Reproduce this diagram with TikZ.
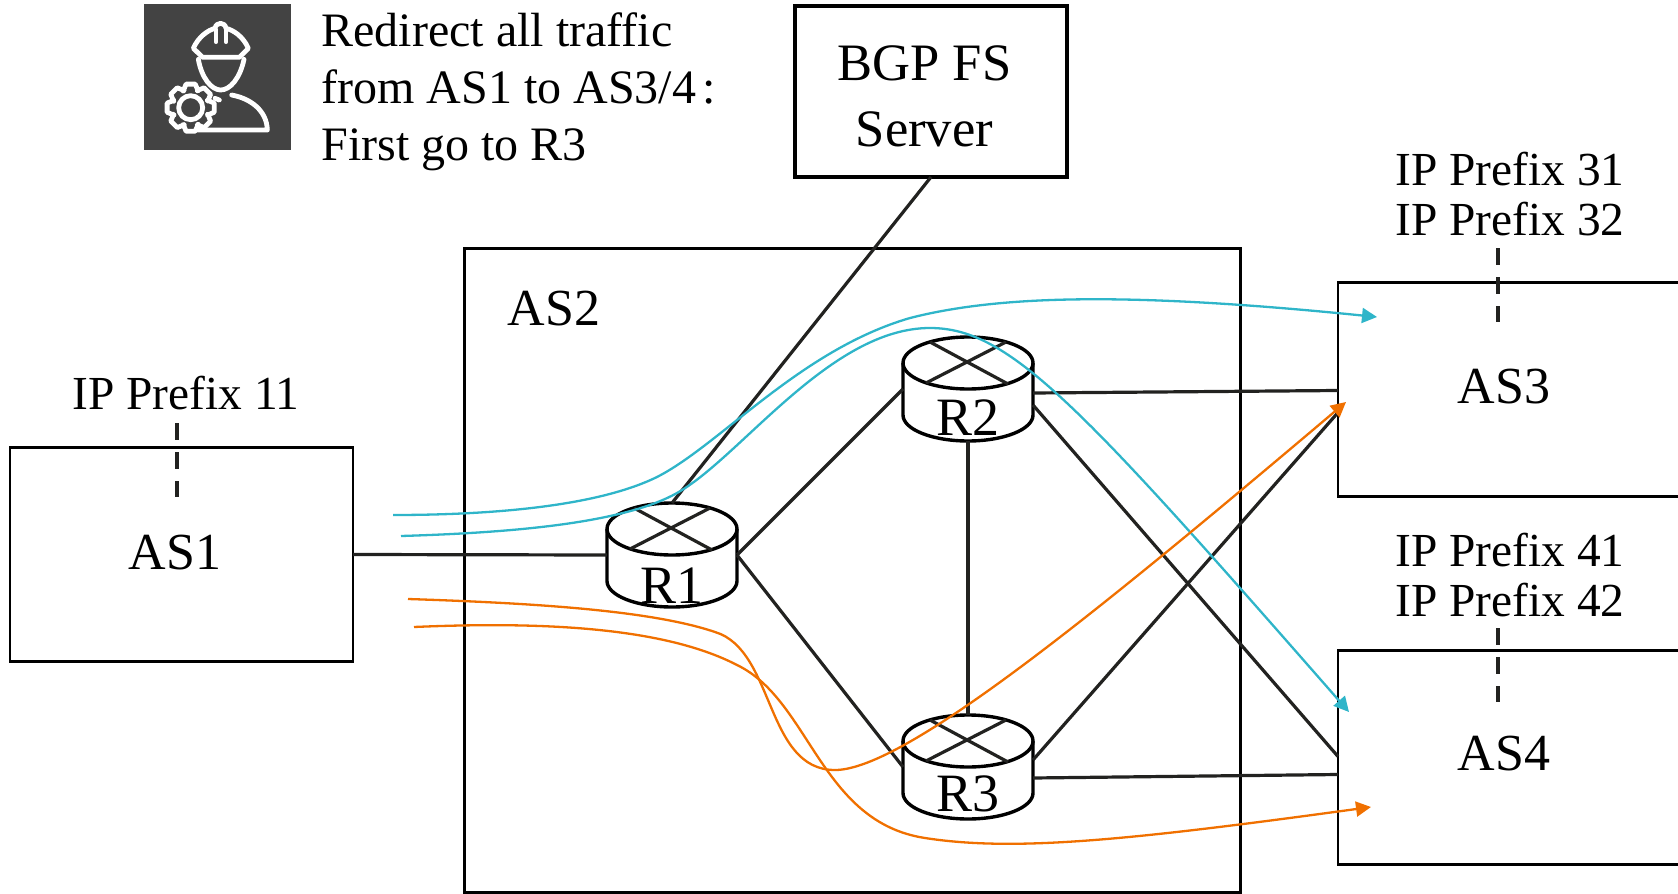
\documentclass[tikz,border=0pt]{standalone}
\usepackage{fontspec}
\setmainfont{Liberation Serif}
\usetikzlibrary{arrows.meta}
\definecolor{flowcyan}{HTML}{2FB5C9}
\definecolor{floworange}{HTML}{F07000}
\definecolor{linkgray}{HTML}{222220}
\definecolor{icongray}{HTML}{434343}
\begin{document}
\begin{tikzpicture}[x=0.5pt, y=-0.5pt,
    % Styles
    asbox/.style={draw=black, line width=1.1pt, inner sep=0pt, outer sep=0pt, minimum width=171.5pt, minimum height=107pt},
    server/.style={draw=black, line width=1.6pt, inner sep=0pt, outer sep=0pt, minimum width=136pt, minimum height=85.5pt},
    router/.style={inner sep=0pt, outer sep=0pt, minimum width=65pt, minimum height=52pt},
    routerline/.style={draw=black, line width=1.7pt},
    crossline/.style={draw=linkgray, line width=1.6pt},
    aslabel/.style={font=\fontsize{26}{30}\selectfont},
    routerlabel/.style={font=\fontsize{27}{30}\selectfont},
    prefixlabel/.style={align=left, inner sep=0pt, font=\fontsize{23.7}{25}\selectfont},
    link/.style={draw=linkgray, line width=1.6pt},
    prefix-line/.style={draw=linkgray, line width=1.7pt, dash pattern=on 8.5pt off 6pt},
    cyan-arrow/.style={-{Triangle[length=7.5pt,width=7.5pt]}, draw=flowcyan, line width=1.15pt},
    orange-arrow/.style={-{Triangle[length=7.5pt,width=7.5pt]}, draw=floworange, line width=1.15pt},
    iconline/.style={draw=white, line width=2.4pt, line join=round, line cap=round},
]
\useasboundingbox (0,0) rectangle (1678,894);
\clip (0,0) rectangle (1678,894);

% Operator icon
\node[fill=icongray, inner sep=0pt, minimum width=73.5pt, minimum height=73pt] (icon) at (217.5,77) {};
\begin{scope}[shift={(130,0)}, x=0.1667pt, y=-0.1667pt]
    \draw[iconline] (190,145) .. controls (205,110) and (235,90) .. (255,85) .. controls (258,65) and (285,65) .. (288,85) .. controls (310,90) and (340,110) .. (355,145) -- (328,172) -- (218,172) -- cycle;
    \draw[iconline] (258,90) -- (258,125);
    \draw[iconline] (288,90) -- (288,125);
    \draw[iconline] (205,178) .. controls (215,235) and (245,270) .. (272,270) .. controls (300,270) and (330,235) .. (342,178);
    \draw[iconline] (255,295) -- (268,300);
    \draw[iconline] (305,285) .. controls (360,295) and (410,330) .. (412,390) -- (205,390);
    \begin{scope}[shift={(182,323)}]
        \draw[iconline] (0,0) circle [radius=6pt];
        \foreach \a in {0,45,...,315} {
            \draw[iconline] (\a-24:55) -- (\a-11:72) -- (\a+11:72) -- (\a+24:55) -- (\a+21:55);
        }
    \end{scope}
\end{scope}

% Intent text
\node[align=left, anchor=west, inner sep=0pt, font=\fontsize{24}{28.5}\selectfont] (intent) at (321,92) {Redirect all traffic\\from AS1 to AS3/4\hspace{3pt}:\\First go to R3};

% Server and AS boxes
\node[server] (BGP) at (931,91.5) {};
\node[align=center, font=\fontsize{26.3}{33}\selectfont] (BGPtext) at (924.5,96) {BGP FS\\Server};
\node[asbox, minimum width=388pt, minimum height=322pt] (AS2) at (852.5,570.5) {};
\node[asbox] (AS1) at (181.5,554.5) {};
\node[asbox, minimum width=181pt] (AS3) at (1519,389.5) {};
\node[asbox, minimum width=181pt] (AS4) at (1519,757.5) {};

\node[aslabel] (AS1text) at (175,553) {AS1};
\node[aslabel] (AS2text) at (554,309) {AS2};
\node[aslabel] (AS3text) at (1504,387) {AS3};
\node[aslabel] (AS4text) at (1504,754) {AS4};

% Prefixes
\node[prefixlabel] (prefix11) at (186,393) {IP Prefix 11};
\node[prefixlabel, anchor=west] (prefix3) at (1395,194) {IP Prefix 31\\IP Prefix 32};
\node[prefixlabel, anchor=west] (prefix4) at (1395,575) {IP Prefix 41\\IP Prefix 42};

\coordinate (drop1a) at (177,423);
\coordinate (drop1b) at (177,497);
\coordinate (drop3a) at (1498,248);
\coordinate (drop3b) at (1498,322);
\coordinate (drop4a) at (1498,628);
\coordinate (drop4b) at (1498,702);
\draw[prefix-line] (drop1a) -- (drop1b);
\draw[prefix-line] (drop3a) -- (drop3b);
\draw[prefix-line] (drop4a) -- (drop4b);

% Routers
\foreach \name/\x/\y/\t in {R1/672/555/31, R2/968/389/29, R3/968/767/27} {
    \node[router] (\name) at (\x,\y) {};
    \node[routerlabel] (\name text) at (\x,\y+\t) {\name};
    \begin{scope}[shift={(\name.center)}]
        \draw[routerline] (0,-26) ellipse [x radius=32.5pt, y radius=13pt];
        \draw[routerline] (-65,-26) -- (-65,26) arc [start angle=180, end angle=360, x radius=32.5pt, y radius=13pt] -- (65,-26);
        \draw[crossline] (-38,-47) -- (40,-5);
        \draw[crossline] (38,-47) -- (-42,-6);
    \end{scope}
}

% Links
\draw[link] (AS1.east) -- (R1.west);
\draw[link] (R1.north) -- (BGP.south);
\draw[link] (R1.east) -- (R2.west);
\draw[link] (R1.east) -- (R3.west);
\draw[link] (R2.south) -- (R3.north);
\draw[link] ([yshift=-2pt]R2.east) -- ([yshift=-0.5pt]AS3.west);
\draw[link] ([yshift=-8pt]R2.east) -- ([yshift=0.5pt]AS4.west);
\draw[link] ([yshift=3.5pt]R3.east) -- ([yshift=-11.5pt]AS3.west);
\draw[link] ([yshift=-5.5pt]R3.east) -- ([yshift=-8.5pt]AS4.west);

% Traffic flows
\coordinate (cyanA) at (393,515);
\coordinate (cyanB) at (401,536);
\coordinate (orangeA) at (408,599);
\coordinate (orangeB) at (414,627);
\coordinate (cyanAend) at (1377,317);
\coordinate (cyanBend) at (1349,712);
\coordinate (orangeAend) at (1346,402);
\coordinate (orangeBend) at (1371,807);

\draw[cyan-arrow] (cyanA) .. controls (500,515) and (600,505) .. (657,477) .. controls (720,445) and (800,350) .. (910,318) .. controls (1000,295) and (1130,292) .. (cyanAend);
\draw[cyan-arrow] (cyanB) .. controls (500,533) and (620,525) .. (677,493) .. controls (740,458) and (830,328) .. (930,328) .. controls (1010,328) and (1080,405) .. (cyanBend);
\draw[orange-arrow] (orangeA) .. controls (530,603) and (650,610) .. (715,632) .. controls (775,650) and (765,770) .. (835,770) .. controls (905,770) and (1100,610) .. (orangeAend);
\draw[orange-arrow] (orangeB) .. controls (530,622) and (660,625) .. (737,665) .. controls (810,700) and (820,822) .. (925,838) .. controls (1015,852) and (1130,840) .. (orangeBend);

\end{tikzpicture}
\end{document}
